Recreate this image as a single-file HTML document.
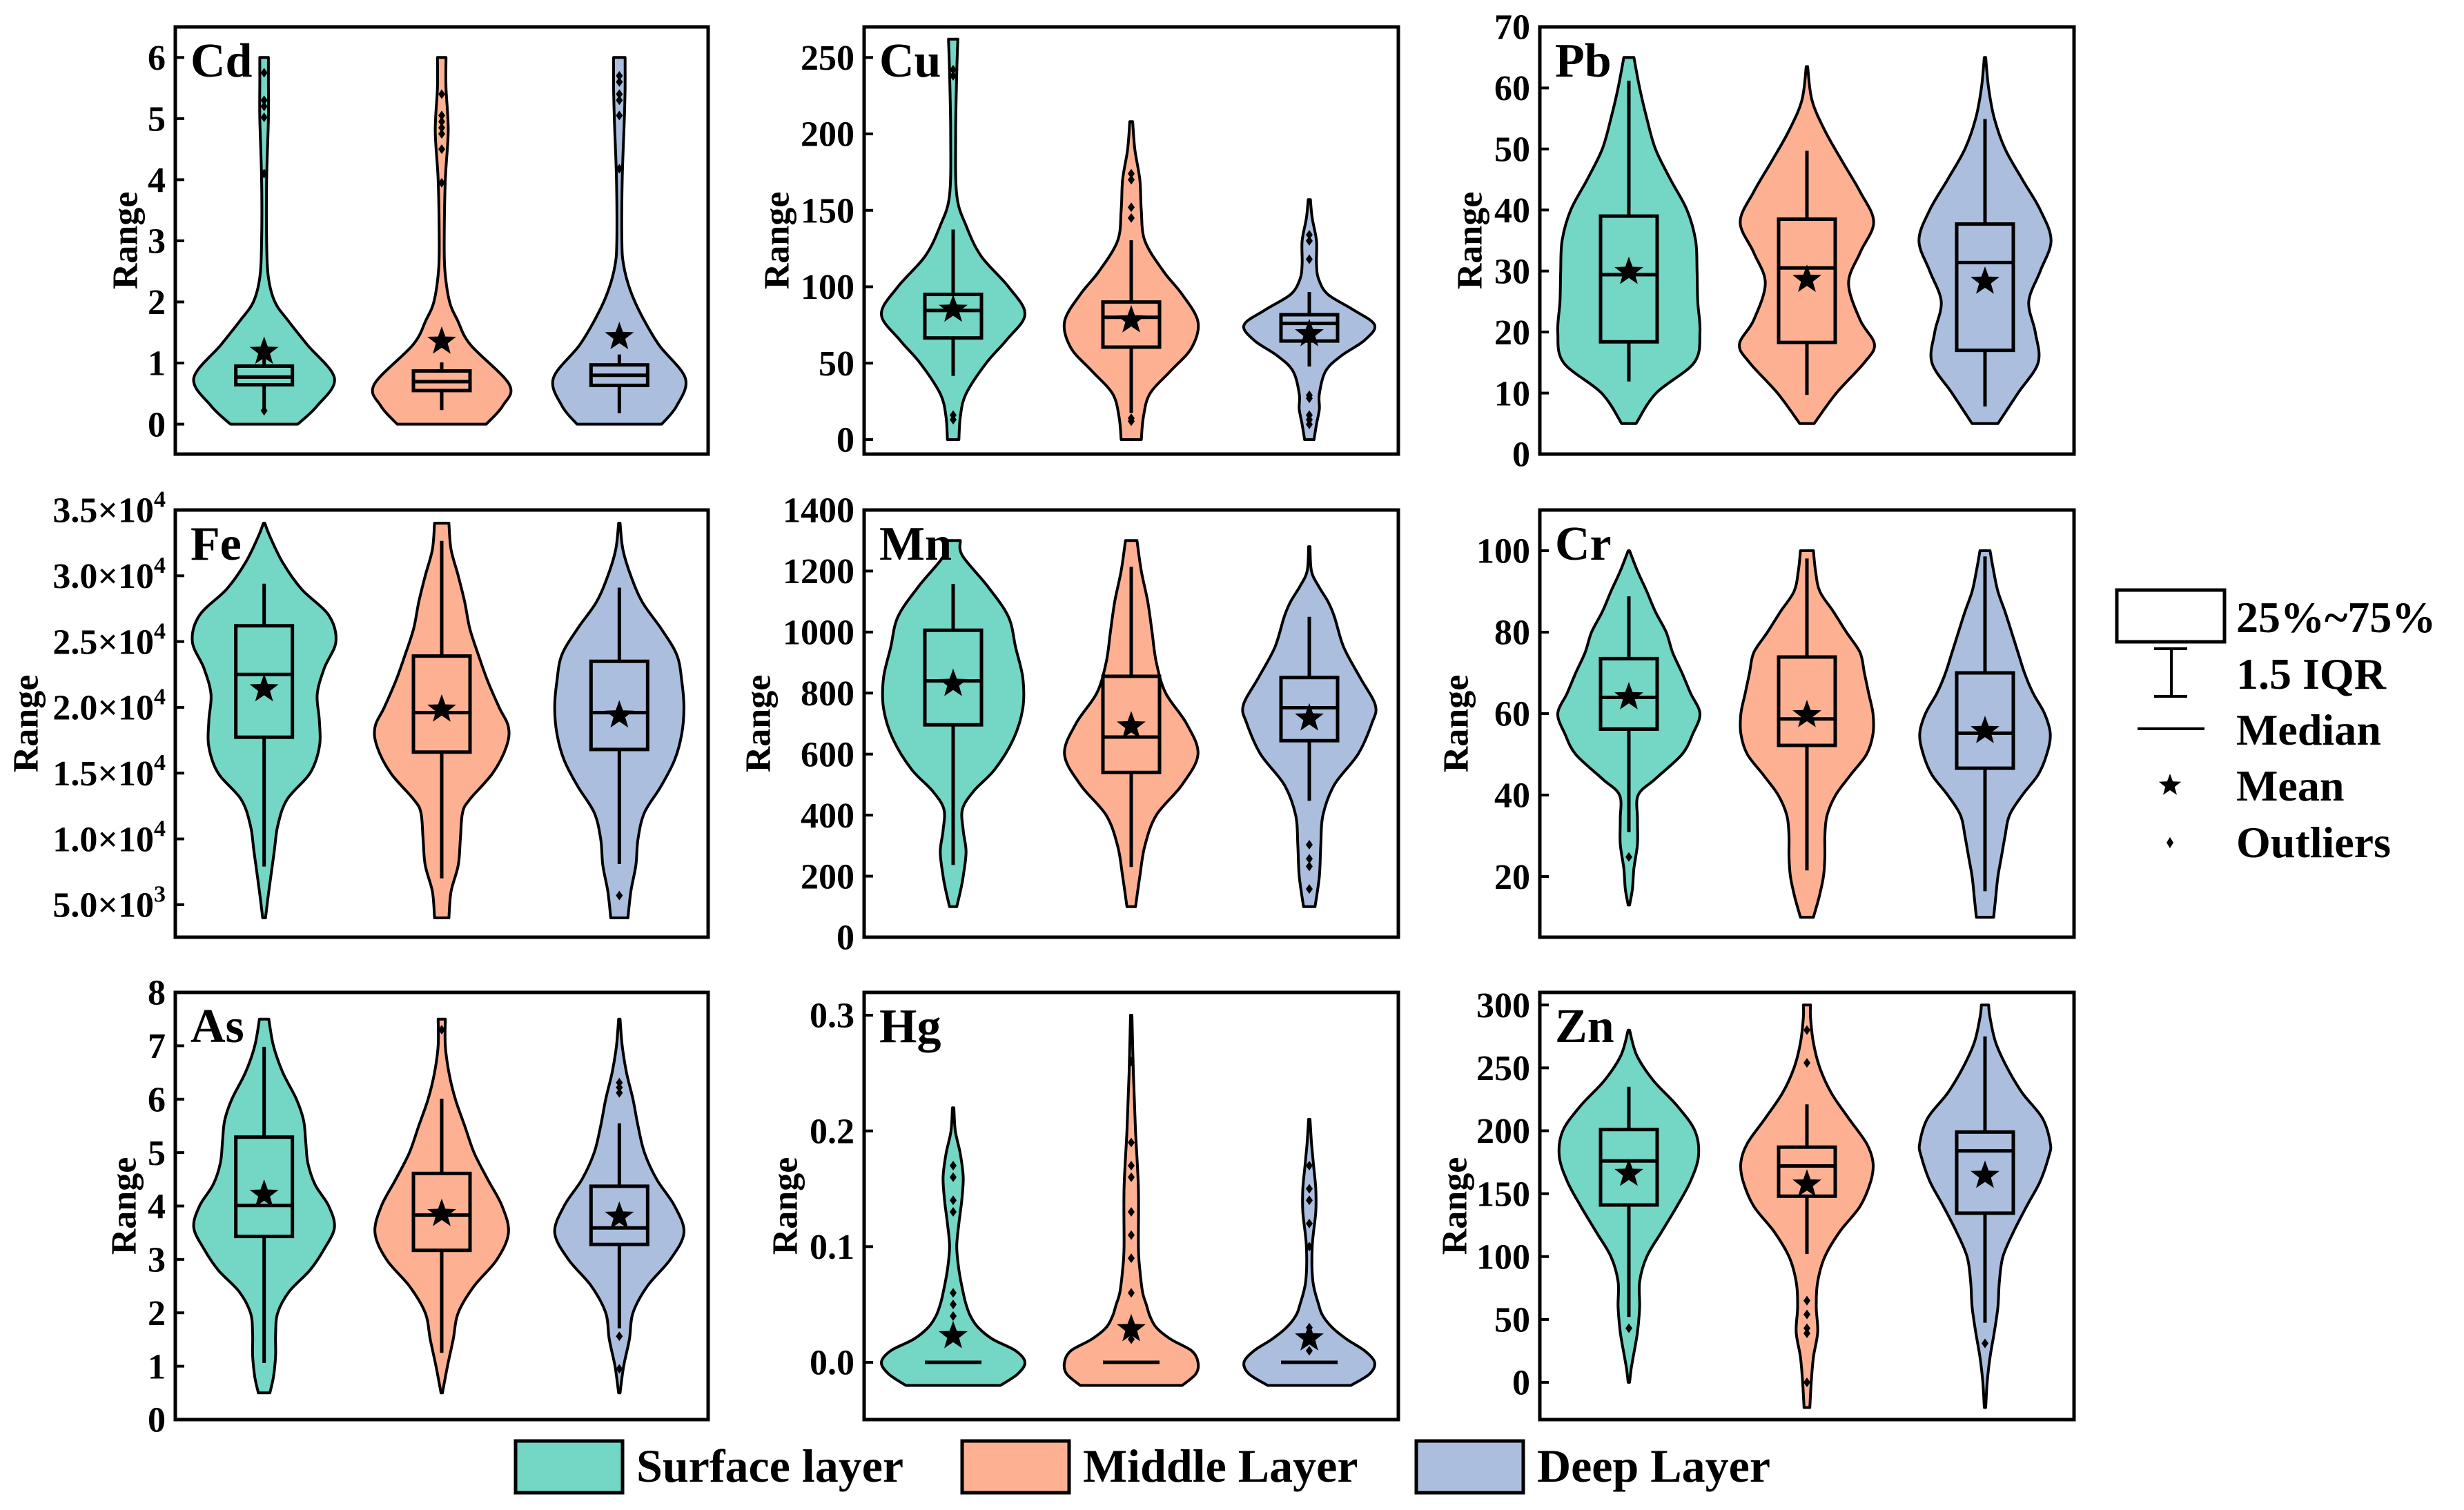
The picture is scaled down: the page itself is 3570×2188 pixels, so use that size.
<!DOCTYPE html>
<html>
<head>
<meta charset="utf-8">
<style>
html,body{margin:0;padding:0;background:#fff;}
svg{display:block;}
text{font-family:"Liberation Serif","Times New Roman",serif;font-weight:bold;fill:#000;}
</style>
</head>
<body>
<svg id="chart" xmlns="http://www.w3.org/2000/svg" width="3570" height="2188" viewBox="0 0 3570 2188">
  <rect x="0" y="0" width="3570" height="2188" fill="#ffffff"/>
  <g id="panels"></g>
  <g id="right-legend">
    <rect x="3067" y="855" width="156" height="75" fill="none" stroke="#000" stroke-width="5"/>
    <text x="3240" y="916" font-size="64">25%~75%</text>
    <line x1="3146" y1="940" x2="3146" y2="1009" stroke="#000" stroke-width="4"/>
    <line x1="3121" y1="940" x2="3169" y2="940" stroke="#000" stroke-width="4"/>
    <line x1="3121" y1="1009" x2="3169" y2="1009" stroke="#000" stroke-width="4"/>
    <text x="3240" y="998" font-size="64">1.5 IQR</text>
    <line x1="3097" y1="1056" x2="3194" y2="1056" stroke="#000" stroke-width="4"/>
    <text x="3240" y="1079" font-size="64">Median</text>
    <path id="legend-star" d="" fill="#000"/>
    <text x="3240" y="1160" font-size="64">Mean</text>
    <path d="M3144 1213 L3149 1221 L3144 1229 L3139 1221 Z" fill="#000"/>
    <text x="3240" y="1242" font-size="64">Outliers</text>
  </g>
  <g id="bottom-legend">
    <rect x="747" y="2088" width="155" height="75" fill="#74d6c4" stroke="#000" stroke-width="5"/>
    <text x="922" y="2147" font-size="68">Surface layer</text>
    <rect x="1394" y="2088" width="155" height="75" fill="#fdb192" stroke="#000" stroke-width="5"/>
    <text x="1569" y="2147" font-size="68">Middle Layer</text>
    <rect x="2052" y="2088" width="155" height="75" fill="#abbedd" stroke="#000" stroke-width="5"/>
    <text x="2227" y="2147" font-size="68">Deep Layer</text>
  </g>
</svg>
<script>
// ===== DATA (profiles: [value, relative density]) =====
const layers = ["Surface layer", "Middle Layer", "Deep Layer"];
const layerColors = ["#74d6c4", "#fdb192", "#abbedd"];

// Cd
const cdProfiles = [
  [[0,.47],[0.3,.74],[0.75,.98],[1.3,.6],[1.7,.33],[2.0,.15],[2.4,.06],[3,.035],[4,.035],[5,.06],[5.6,.06],[6,.06]],
  [[0,.62],[0.3,.85],[0.65,.94],[1.3,.4],[1.7,.22],[2.0,.11],[2.5,.045],[3,.035],[4,.05],[4.8,.09],[5.5,.06],[6,.06]],
  [[0,.59],[0.3,.8],[0.75,.92],[1.3,.55],[1.8,.3],[2.2,.15],[2.6,.06],[3,.035],[4,.04],[5,.07],[5.5,.08],[6,.08]]
];
const cdQ1 = [0.645, 0.55, 0.635];
const cdMedian = [0.77, 0.695, 0.8];
const cdQ3 = [0.95, 0.87, 0.97];
const cdLow = [0.23, 0.23, 0.18];
const cdHigh = [1.2, 1.01, 1.14];
const cdMean = [1.21, 1.375, 1.45];
const cdOutliers = [[5.75,5.3,5.2,5.02,4.1,0.22],[5.4,5.05,4.95,4.85,4.75,4.5,3.95],[5.7,5.6,5.4,5.3,5.05,4.18]];
const cdTicks = [0,1,2,3,4,5,6];
const cdTickLabels = ["0","1","2","3","4","5","6"];

// Cu
const cuProfiles = [
  [[0,.08],[15,.1],[30,.18],[50,.46],[65,.74],[82,1.0],[100,.77],[120,.39],[140,.18],[160,.05],[200,.035],[240,.05],[262,.065]],
  [[0,.14],[15,.17],[30,.26],[45,.55],[60,.84],[77,.93],[95,.71],[110,.45],[130,.19],[150,.14],[170,.12],[190,.05],[208,.02]],
  [[0,.065],[10,.1],[20,.14],[30,.14],[45,.23],[55,.45],[65,.77],[75,.91],[85,.61],[95,.26],[105,.13],[115,.1],[130,.1],[145,.04],[157,.015]]
];
const cuQ1 = [66.5, 60.5, 64.5];
const cuMedian = [84.5, 80, 76];
const cuQ3 = [95, 90, 81.7];
const cuLow = [41.7, 17.5, 47.8];
const cuHigh = [137.5, 130.4, 96.6];
const cuMean = [86, 79, 70];
const cuOutliers = [[242,238,16,13],[174,170,152,145,14,12],[134,130,118,29,27,16,13,10]];
const cuTicks = [0,50,100,150,200,250];
const cuTickLabels = ["0","50","100","150","200","250"];

// Pb
const pbProfiles = [
  [[5,.1],[10,.38],[15,.91],[20,.99],[25,.96],[30,.95],[35,.93],[40,.81],[45,.58],[50,.37],[55,.25],[60,.15],[65,.07]],
  [[5,.1],[10,.41],[15,.8],[18,.94],[22,.74],[28,.58],[33,.74],[38,.93],[43,.74],[48,.49],[53,.25],[58,.07],[63.5,.01]],
  [[5,.18],[10,.46],[15,.74],[20,.7],[25,.61],[30,.77],[35,.92],[40,.77],[45,.52],[50,.28],[55,.13],[60,.05],[65,.01]]
];
const pbQ1 = [18.4, 18.3, 17];
const pbMedian = [29.4, 30.5, 31.4];
const pbQ3 = [39, 38.5, 37.7];
const pbLow = [11.9, 9.7, 7.8];
const pbHigh = [61.2, 49.7, 54.9];
const pbMean = [30.1, 28.8, 28.5];
const pbOutliers = [[],[],[]];
const pbTicks = [0,10,20,30,40,50,60,70];
const pbTickLabels = ["0","10","20","30","40","50","60","70"];

// Fe
const feProfiles = [
  [[4000,.02],[6000,.065],[9000,.14],[11000,.19],[13000,.32],[15000,.64],[17000,.77],[19000,.77],[21000,.74],[23000,.84],[25000,1.0],[27000,.9],[29000,.52],[31000,.26],[33000,.08],[34000,.01]],
  [[4000,.1],[6000,.13],[8000,.23],[10000,.26],[12000,.29],[13000,.39],[15000,.71],[17000,.9],[18500,.93],[20000,.8],[22000,.64],[24000,.51],[26000,.39],[28000,.32],[30000,.23],[32000,.13],[34000,.1]],
  [[4000,.12],[6000,.16],[8000,.23],[10000,.26],[12000,.35],[14000,.58],[16000,.77],[18000,.87],[20000,.9],[22000,.87],[24000,.8],[26000,.58],[28000,.32],[30000,.16],[32000,.05],[34000,.01]]
];
const feQ1 = [17730, 16600, 16800];
const feMedian = [22500, 19600, 19600];
const feQ3 = [26200, 23900, 23500];
const feLow = [7900, 7000, 8100];
const feHigh = [29400, 32650, 29100];
const feMean = [21500, 19950, 19500];
const feOutliers = [[],[],[5700]];
const feTicks = [5000,10000,15000,20000,25000,30000,35000];
const feTickLabels = ["5.0×10^3","1.0×10^4","1.5×10^4","2.0×10^4","2.5×10^4","3.0×10^4","3.5×10^4"];

// Mn
const mnProfiles = [
  [[100,.05],[150,.1],[200,.14],[280,.18],[350,.14],[420,.13],[480,.29],[550,.58],[650,.84],[750,.97],[850,.97],[950,.87],[1050,.77],[1150,.48],[1250,.13],[1300,.1]],
  [[100,.06],[200,.12],[300,.19],[400,.35],[500,.71],[600,.93],[700,.77],[800,.48],[900,.35],[1000,.29],[1100,.23],[1200,.14],[1300,.08]],
  [[100,.08],[200,.14],[300,.16],[400,.19],[500,.35],[600,.68],[700,.87],[760,.92],[850,.71],[950,.48],[1050,.35],[1100,.26],[1150,.13],[1200,.03],[1280,.01]]
];
const mnQ1 = [696, 540, 644];
const mnMedian = [840, 656, 752];
const mnQ3 = [1006, 855, 851];
const mnLow = [237, 230, 447];
const mnHigh = [1158, 1214, 1050];
const mnMean = [835, 696, 722];
const mnOutliers = [[],[],[303,257,232,158]];
const mnTicks = [0,200,400,600,800,1000,1200,1400];
const mnTickLabels = ["0","200","400","600","800","1000","1200","1400"];

// Cr
const crProfiles = [
  [[13,.01],[17,.05],[22,.07],[28,.12],[34,.12],[40,.13],[44,.37],[50,.74],[55,.89],[60,.99],[65,.86],[70,.74],[75,.61],[80,.52],[85,.37],[90,.25],[95,.12],[100,.01]],
  [[10,.09],[15,.17],[20,.23],[25,.25],[30,.25],[35,.28],[40,.4],[45,.61],[50,.83],[55,.92],[60,.92],[65,.86],[70,.8],[75,.74],[80,.55],[85,.37],[90,.18],[95,.12],[100,.09]],
  [[10,.12],[15,.15],[20,.18],[25,.23],[30,.28],[35,.34],[40,.52],[45,.74],[50,.86],[55,.91],[60,.83],[65,.67],[70,.55],[75,.46],[80,.37],[85,.28],[90,.18],[95,.12],[100,.07]]
];
const crQ1 = [56.2, 52.2, 46.6];
const crMedian = [64, 58.7, 55.2];
const crQ3 = [73.5, 73.9, 70];
const crLow = [30.9, 21.5, 16.4];
const crHigh = [88.8, 98.1, 98.6];
const crMean = [64.4, 60, 56.1];
const crOutliers = [[24.8],[],[]];
const crTicks = [20,40,60,80,100];
const crTickLabels = ["20","40","60","80","100"];

// As
const asProfiles = [
  [[0.5,.08],[0.8,.13],[1.2,.16],[1.6,.16],[2.0,.19],[2.4,.35],[2.8,.64],[3.2,.84],[3.6,.98],[4.0,.9],[4.4,.71],[4.8,.61],[5.2,.58],[5.6,.55],[6.0,.45],[6.5,.26],[7.0,.13],[7.5,.065]],
  [[0.5,.01],[1.0,.08],[1.5,.16],[2.0,.23],[2.5,.45],[3.0,.77],[3.5,.93],[4.0,.84],[4.5,.64],[5.0,.45],[5.5,.32],[6.0,.19],[6.5,.1],[7.0,.05],[7.5,.05]],
  [[0.5,.01],[1.0,.06],[1.5,.14],[2.0,.19],[2.5,.39],[3.0,.71],[3.5,.9],[4.0,.77],[4.5,.52],[5.0,.35],[5.5,.26],[6.0,.19],[6.5,.1],[7.0,.04],[7.5,.01]]
];
const asQ1 = [3.43, 3.17, 3.28];
const asMedian = [4.01, 3.83, 3.59];
const asQ3 = [5.29, 4.61, 4.37];
const asLow = [1.06, 1.25, 1.71];
const asHigh = [6.98, 6.01, 5.55];
const asMean = [4.24, 3.88, 3.83];
const asOutliers = [[],[7.3],[6.31,6.22,6.12,1.56,0.95]];
const asTicks = [0,1,2,3,4,5,6,7,8];
const asTickLabels = ["0","1","2","3","4","5","6","7","8"];

// Hg
const hgProfiles = [
  [[-0.02,.66],[-0.01,.9],[0,1.0],[0.01,.87],[0.02,.55],[0.03,.35],[0.04,.24],[0.05,.18],[0.06,.14],[0.08,.08],[0.1,.05],[0.12,.08],[0.14,.12],[0.16,.14],[0.18,.1],[0.2,.03],[0.22,.01]],
  [[-0.02,.71],[-0.01,.9],[0,.93],[0.01,.84],[0.02,.55],[0.03,.35],[0.04,.26],[0.05,.21],[0.06,.16],[0.08,.12],[0.1,.1],[0.15,.1],[0.2,.06],[0.25,.03],[0.3,.01]],
  [[-0.02,.58],[-0.01,.84],[0,.91],[0.01,.77],[0.02,.52],[0.03,.32],[0.04,.19],[0.05,.13],[0.07,.05],[0.1,.04],[0.13,.09],[0.15,.09],[0.17,.06],[0.19,.03],[0.21,.01]]
];
const hgQ1 = [0, 0, 0];
const hgMedian = [0, 0, 0];
const hgQ3 = [0, 0, 0];
const hgLow = [0, 0, 0];
const hgHigh = [0, 0, 0];
const hgMean = [0.024, 0.03, 0.022];
const hgOutliers = [[0.17,0.16,0.14,0.13,0.06,0.05,0.04],[0.26,0.19,0.17,0.16,0.13,0.11,0.09,0.06,0.02],[0.17,0.15,0.14,0.12,0.10,0.03,0.01]];
const hgTicks = [0,0.1,0.2,0.3];
const hgTickLabels = ["0.0","0.1","0.2","0.3"];

// Zn
const znProfiles = [
  [[0,.01],[10,.03],[20,.06],[40,.12],[60,.15],[80,.15],[100,.25],[120,.46],[140,.67],[160,.86],[180,.97],[200,.92],[220,.67],[240,.34],[260,.11],[280,.01]],
  [[-20,.04],[0,.06],[20,.09],[40,.15],[60,.13],[80,.15],[100,.25],[120,.46],[140,.74],[160,.89],[175,.92],[190,.83],[210,.58],[230,.34],[250,.18],[270,.09],[290,.05],[300,.05]],
  [[-20,.01],[0,.03],[20,.07],[40,.13],[60,.18],[80,.2],[100,.25],[120,.4],[140,.58],[160,.77],[180,.89],[190,.91],[210,.8],[230,.52],[250,.31],[270,.15],[290,.07],[300,.05]]
];
const znQ1 = [141, 148, 134.5];
const znMedian = [176, 172, 184];
const znQ3 = [201, 187, 199];
const znLow = [52, 102, 47.4];
const znHigh = [235, 221, 275];
const znMean = [167, 158.5, 165.4];
const znOutliers = [[43],[280,254,65,54,43,39,0],[31]];
const znTicks = [0,50,100,150,200,250,300];
const znTickLabels = ["0","50","100","150","200","250","300"];

// ===== LAYOUT =====
const colX = [[254,1026],[1252,2026],[2231,3005]];
const rowY = [[39,658],[739,1358],[1438,2057]];
const MAXHW = 104;
const BOXHW = 41;

const panels = [
  {id:"cd", label:"Cd", col:0,row:0, vmin:-0.49, vmax:6.5, prof:cdProfiles,q1:cdQ1,med:cdMedian,q3:cdQ3,lo:cdLow,hi:cdHigh,mean:cdMean,out:cdOutliers,ticks:cdTicks,tl:cdTickLabels, ylx:182, fs:52},
  {id:"cu", label:"Cu", col:1,row:0, vmin:-9.5, vmax:270, prof:cuProfiles,q1:cuQ1,med:cuMedian,q3:cuQ3,lo:cuLow,hi:cuHigh,mean:cuMean,out:cuOutliers,ticks:cuTicks,tl:cuTickLabels, ylx:1126, fs:52},
  {id:"pb", label:"Pb", col:2,row:0, vmin:0, vmax:70, prof:pbProfiles,q1:pbQ1,med:pbMedian,q3:pbQ3,lo:pbLow,hi:pbHigh,mean:pbMean,out:pbOutliers,ticks:pbTicks,tl:pbTickLabels, ylx:2130, fs:52},
  {id:"fe", label:"Fe", col:0,row:1, vmin:2530, vmax:35000, prof:feProfiles,q1:feQ1,med:feMedian,q3:feQ3,lo:feLow,hi:feHigh,mean:feMean,out:feOutliers,ticks:feTicks,tl:feTickLabels, ylx:38, fs:52},
  {id:"mn", label:"Mn", col:1,row:1, vmin:0, vmax:1400, prof:mnProfiles,q1:mnQ1,med:mnMedian,q3:mnQ3,lo:mnLow,hi:mnHigh,mean:mnMean,out:mnOutliers,ticks:mnTicks,tl:mnTickLabels, ylx:1099, fs:52},
  {id:"cr", label:"Cr", col:2,row:1, vmin:5.1, vmax:110, prof:crProfiles,q1:crQ1,med:crMedian,q3:crQ3,lo:crLow,hi:crHigh,mean:crMean,out:crOutliers,ticks:crTicks,tl:crTickLabels, ylx:2110, fs:52},
  {id:"as", label:"As", col:0,row:2, vmin:0, vmax:8, prof:asProfiles,q1:asQ1,med:asMedian,q3:asQ3,lo:asLow,hi:asHigh,mean:asMean,out:asOutliers,ticks:asTicks,tl:asTickLabels, ylx:180, fs:52},
  {id:"hg", label:"Hg", col:1,row:2, vmin:-0.0495, vmax:0.3197, prof:hgProfiles,q1:hgQ1,med:hgMedian,q3:hgQ3,lo:hgLow,hi:hgHigh,mean:hgMean,out:hgOutliers,ticks:hgTicks,tl:hgTickLabels, ylx:1138, fs:52},
  {id:"zn", label:"Zn", col:2,row:2, vmin:-29.6, vmax:310, prof:znProfiles,q1:znQ1,med:znMedian,q3:znQ3,lo:znLow,hi:znHigh,mean:znMean,out:znOutliers,ticks:znTicks,tl:znTickLabels, ylx:2108, fs:52}
];

const NS = "http://www.w3.org/2000/svg";
function el(tag, attrs, parent){
  const e = document.createElementNS(NS, tag);
  for (const k in attrs) e.setAttribute(k, attrs[k]);
  parent.appendChild(e);
  return e;
}
function starPath(cx, cy, R, r){
  let d = "";
  for (let i = 0; i < 10; i++){
    const a = -Math.PI/2 + i*Math.PI/5;
    const rr = i % 2 === 0 ? R : r;
    d += (i === 0 ? "M" : "L") + (cx + rr*Math.cos(a)).toFixed(1) + " " + (cy + rr*Math.sin(a)).toFixed(1);
  }
  return d + "Z";
}
function crSeg(pts){
  let d = "";
  for (let i = 0; i < pts.length - 1; i++){
    const p0 = pts[Math.max(0, i-1)], p1 = pts[i], p2 = pts[i+1], p3 = pts[Math.min(pts.length-1, i+2)];
    const c1x = p1[0] + (p2[0]-p0[0])/6, c1y = p1[1] + (p2[1]-p0[1])/6;
    const c2x = p2[0] - (p3[0]-p1[0])/6, c2y = p2[1] - (p3[1]-p1[1])/6;
    d += " C" + c1x.toFixed(1) + " " + c1y.toFixed(1) + " " + c2x.toFixed(1) + " " + c2y.toFixed(1) + " " + p2[0].toFixed(1) + " " + p2[1].toFixed(1);
  }
  return d;
}

document.getElementById("legend-star").setAttribute("d", starPath(3144, 1138, 17, 7));

const root = document.getElementById("panels");
panels.forEach(function(p){
  const x0 = colX[p.col][0], x1 = colX[p.col][1];
  const y0 = rowY[p.row][0], y1 = rowY[p.row][1];
  const yScale = function(v){ return y1 - (v - p.vmin) / (p.vmax - p.vmin) * (y1 - y0); };
  const g = el("g", {}, root);
  
  

  p.prof.forEach(function(prof, i){
    const cx = x0 + (x1 - x0) * (2*i + 1) / 6;
    const right = prof.map(function(q){ return [cx + q[1]*MAXHW, yScale(q[0])]; });
    const left = prof.slice().reverse().map(function(q){ return [cx - q[1]*MAXHW, yScale(q[0])]; });
    let d = "M" + left[left.length-1][0].toFixed(1) + " " + left[left.length-1][1].toFixed(1);
    d += " L" + right[0][0].toFixed(1) + " " + right[0][1].toFixed(1);
    d += crSeg(right);
    d += " L" + left[0][0].toFixed(1) + " " + left[0][1].toFixed(1);
    d += crSeg(left) + " Z";
    const v = el("path", {d: d, fill: layerColors[i], stroke: "#000", "stroke-width": 4, "stroke-linejoin": "round"}, g);
    
    
  });

  p.prof.forEach(function(prof, i){
    const cx = x0 + (x1 - x0) * (2*i + 1) / 6;
    const lname = ['surface','middle','deep'][i];
    const wl = el("line", {x1: cx, x2: cx, y1: yScale(p.lo[i]), y2: yScale(p.q1[i]), stroke: "#000", "stroke-width": 5}, g);
    
    
    const wh = el("line", {x1: cx, x2: cx, y1: yScale(p.q3[i]), y2: yScale(p.hi[i]), stroke: "#000", "stroke-width": 5}, g);
    
    
    const top = yScale(p.q3[i]), bot = yScale(p.q1[i]);
    const bx = el("rect", {x: cx - BOXHW, y: top, width: 2*BOXHW, height: Math.max(0, bot - top), fill: "none", stroke: "#000", "stroke-width": 5}, g);
    
    
    const md = el("line", {x1: cx - BOXHW, x2: cx + BOXHW, y1: yScale(p.med[i]), y2: yScale(p.med[i]), stroke: "#000", "stroke-width": 5}, g);
    
    
    p.out[i].forEach(function(o){
      const oy = yScale(o);
      const dm = el("path", {d: "M" + cx + " " + (oy-7) + " L" + (cx+5) + " " + oy + " L" + cx + " " + (oy+7) + " L" + (cx-5) + " " + oy + " Z", fill: "#000"}, g);
      
      
    });
    const st = el("path", {d: starPath(cx, yScale(p.mean[i]) + 2, 22, 9), fill: "#000"}, g);
    
    
  });

  const fr = el("rect", {x: x0, y: y0, width: x1 - x0, height: y1 - y0, fill: "none", stroke: "#000", "stroke-width": 5}, g);
  
  

  p.ticks.forEach(function(t, k){
    const ty = yScale(t);
    const tk = el("line", {x1: x0, x2: x0 + 13, y1: ty, y2: ty, stroke: "#000", "stroke-width": 4}, g);
    
    
    const lab = p.tl[k];
    const tx = el("text", {x: x0 - 14, y: ty + p.fs*0.34, "font-size": p.fs, "text-anchor": "end"}, g);
    
    
    if (lab.indexOf("^") >= 0){
      const parts = lab.split("^");
      const a = el("tspan", {}, tx); a.textContent = parts[0];
      const b = el("tspan", {dy: -22, "font-size": 34}, tx); b.textContent = parts[1];
    } else {
      tx.textContent = lab;
    }
  });

  const pl = el("text", {x: x0 + 22, y: y0 + 72, "font-size": 70}, g);
  
  
  pl.textContent = p.label;

  const cy = (y0 + y1) / 2;
  const yl = el("text", {x: p.ylx, y: cy, "font-size": 52, "text-anchor": "middle", transform: "rotate(-90 " + p.ylx + " " + cy + ")", "dominant-baseline": "central"}, g);
  
  
  yl.textContent = "Range";
});
</script>
</body>
</html>
